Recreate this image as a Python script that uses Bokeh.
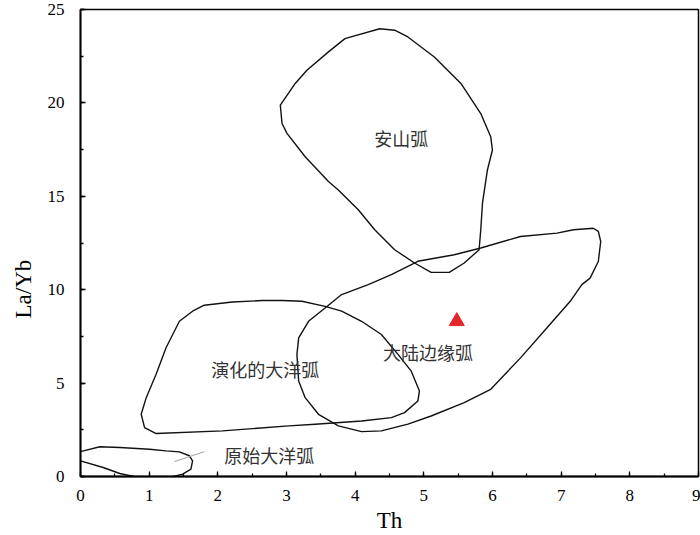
from bokeh.plotting import figure
from bokeh.models import Range1d, SingleIntervalTicker, Label, Title
from bokeh.embed import file_html
from bokeh.resources import INLINE

# ---- data ----
andesite_x = [4.357, 3.851, 3.611, 3.297, 3.127, 2.910, 2.935, 3.007, 3.272, 3.611, 3.755,
              4.045, 4.285, 4.575, 4.864, 5.106, 5.370, 5.588, 5.805, 5.829, 5.854, 5.926,
              5.999, 5.974, 5.829, 5.540, 5.153, 4.768, 4.575, 4.357]
andesite_y = [23.97, 23.44, 22.73, 21.75, 21.04, 19.88, 18.90, 18.37, 17.12, 15.79, 15.34,
              14.28, 13.21, 12.14, 11.43, 10.93, 10.93, 11.43, 12.14, 13.21, 14.63, 16.41,
              17.48, 18.19, 19.43, 21.04, 22.46, 23.53, 23.89, 23.97]

continental_x = [7.469, 7.541, 7.576, 7.541, 7.421, 7.301, 7.132, 6.794, 6.408, 5.974, 5.588,
                 5.106, 4.768, 4.382, 4.093, 3.755, 3.466, 3.272, 3.177, 3.152, 3.177, 3.321,
                 3.562, 3.803, 4.190, 4.527, 4.913, 5.443, 5.829, 6.408, 6.939, 7.180, 7.469]
continental_y = [13.29, 13.12, 12.58, 11.51, 10.62, 10.27, 9.38, 7.96, 6.35, 4.67, 3.95,
                 3.24, 2.80, 2.44, 2.40, 2.71, 3.33, 4.22, 5.11, 6.54, 7.42, 8.31,
                 9.02, 9.74, 10.27, 10.81, 11.52, 11.87, 12.23, 12.85, 13.03, 13.21, 13.29]

evolved_x = [1.802, 2.211, 2.645, 2.935, 3.224, 3.562, 3.803, 4.093, 4.382, 4.624, 4.817,
             4.936, 4.913, 4.719, 4.527, 4.093, 3.417, 3.032, 2.067, 1.101, 0.933, 0.884,
             0.957, 1.101, 1.246, 1.440, 1.632, 1.802]
evolved_y = [9.17, 9.34, 9.42, 9.42, 9.38, 9.11, 8.85, 8.31, 7.60, 6.54, 5.64,
             4.58, 4.04, 3.42, 3.15, 2.97, 2.80, 2.71, 2.44, 2.30, 2.62, 3.33,
             4.22, 5.47, 6.89, 8.31, 8.85, 9.17]

primitive_x = [0.0, 0.282, 0.572, 1.006, 1.246, 1.440, 1.585, 1.632, 1.608, 1.488, 1.295,
               0.812, 0.572, 0.330, 0.0]
primitive_y = [1.33, 1.59, 1.55, 1.46, 1.37, 1.32, 1.11, 0.84, 0.40, 0.13, -0.05,
               -0.02, 0.16, 0.48, 0.84]

leader_x = [1.37, 1.805]
leader_y = [0.80, 1.33]

sample_x = [5.48]
sample_y = [8.31]

field_names = ["安山弧", "演化的大洋弧", "大陆边缘弧", "原始大洋弧"]
field_label_x = [4.67, 2.69, 5.06, 2.75]
field_label_y = [18.10, 5.73, 6.67, 1.16]

x_label = "Th"
y_label = "La/Yb"

# ---- figure ----
p = figure(width=700, height=535, output_backend="svg", toolbar_location=None,
           x_range=Range1d(0, 9), y_range=Range1d(0, 25),
           min_border_left=77, min_border_right=2, min_border_top=9, min_border_bottom=0,
           background_fill_color="white", border_fill_color="white")
p.grid.visible = False
p.outline_line_color = "black"
p.outline_line_width = 1.5

p.xaxis[0].ticker = SingleIntervalTicker(interval=1, num_minor_ticks=2)
p.yaxis[0].ticker = SingleIntervalTicker(interval=5, num_minor_ticks=2)
for ax in (p.xaxis[0], p.yaxis[0]):
    ax.axis_line_width = 1.8
    ax.axis_line_color = "black"
    ax.major_tick_in = 5
    ax.major_tick_out = 0
    ax.minor_tick_in = 3
    ax.minor_tick_out = 0
    ax.major_tick_line_color = "black"
    ax.minor_tick_line_color = "black"
    ax.major_tick_line_width = 1.3
    ax.minor_tick_line_width = 1.3
    ax.major_label_text_font = "Liberation Serif"
    ax.major_label_text_font_size = "17px"
    ax.major_label_text_color = "black"
p.xaxis[0].major_label_standoff = 13
p.yaxis[0].major_label_standoff = 16

p.xaxis[0].axis_label = x_label
p.xaxis[0].axis_label_text_font = "Liberation Serif"
p.xaxis[0].axis_label_text_font_size = "23px"
p.xaxis[0].axis_label_text_font_style = "normal"
p.xaxis[0].axis_label_text_color = "black"
p.xaxis[0].axis_label_standoff = 4

p.add_layout(Title(text=y_label, align="left", offset=158, standoff=17,
                   text_font="Liberation Serif", text_font_size="23px",
                   text_font_style="normal", text_color="black"), "left")

line_kw = dict(line_color="#111111", line_width=1.4)
p.line(andesite_x, andesite_y, **line_kw)
p.line(continental_x, continental_y, **line_kw)
p.line(evolved_x, evolved_y, **line_kw)
p.line(primitive_x, primitive_y, **line_kw)
p.line(leader_x, leader_y, line_color="#a0a0a0", line_width=1)

p.scatter(sample_x, sample_y, marker="triangle", size=15, fill_color="#e3262a",
          line_color="#e3262a")

for name, lx, ly in zip(field_names, field_label_x, field_label_y):
    p.add_layout(Label(x=lx, y=ly, text=name, text_font="Noto Sans CJK SC",
                       text_font_size="18px", text_color="#333333",
                       text_align="center", text_baseline="middle"))

open("out.html", "w").write(file_html(p, INLINE))
